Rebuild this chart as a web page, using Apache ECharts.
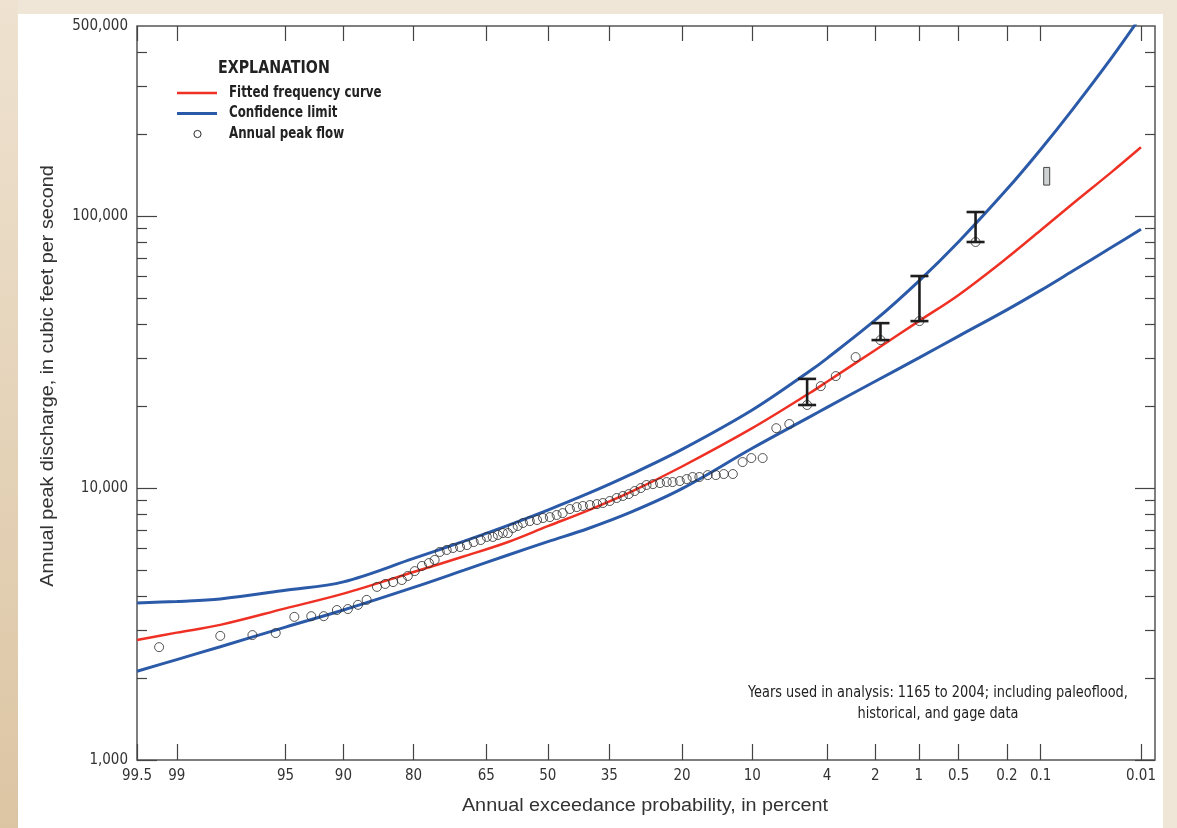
<!DOCTYPE html>
<html><head><meta charset="utf-8">
<script src="https://cdn.jsdelivr.net/npm/echarts@6/dist/echarts.min.js"></script>
<style>
html,body{margin:0;padding:0;width:1177px;height:828px;overflow:hidden;background:#f0e6d8;}
#strip{position:absolute;left:0;top:0;width:18px;height:828px;background:linear-gradient(to bottom,#eee2d0,#dcc5a3);}
#panel{position:absolute;left:18px;top:14px;width:1145px;height:814px;background:#fff;}
#chart{position:absolute;left:0;top:0;width:1177px;height:828px;}
</style></head><body>
<div id="strip"></div><div id="panel"></div><div id="chart"></div>
<script>
// ---- axis ticks ----
const probTicks = [99.5, 99, 95, 90, 80, 65, 50, 35, 20, 10, 4, 2, 1, 0.5, 0.2, 0.1, 0.01];
const probTickLabels = ['99.5','99','95','90','80','65','50','35','20','10','4','2','1','0.5','0.2','0.1','0.01'];
const yLabelValues = [1000, 10000, 100000, 500000];
const yMajorTicks = [1000, 10000, 100000];
const yMinorTicks = [2000,3000,4000,5000,6000,7000,8000,9000,
                     20000,30000,40000,50000,60000,70000,80000,90000,
                     200000,300000,400000];

// ---- curves (annual exceedance probability %, discharge cfs) ----
const curveProbs  = [99.5, 99, 98, 95, 90, 80, 70, 60, 50, 40, 30, 20, 10, 5, 4, 2, 1, 0.5, 0.2, 0.1, 0.05, 0.02, 0.01];
const fittedCurve = [2760, 2940, 3140, 3610, 4090, 4910, 5610, 6320, 7240, 8280, 9700, 12000, 16600, 22400, 24600, 32200, 41100, 51300, 70100, 88700, 111000, 146000, 179000];
const upperLimit  = [3780, 3830, 3910, 4210, 4520, 5510, 6380, 7280, 8300, 9550, 11250, 13870, 19360, 26980, 29990, 41500, 57700, 80500, 125400, 175800, 247000, 386000, 543000];
const lowerLimit  = [2120, 2340, 2610, 3080, 3560, 4310, 4990, 5660, 6350, 7100, 8170, 9950, 14000, 18300, 19800, 24700, 30100, 36200, 45200, 53300, 62800, 77100, 89500];

// ---- annual peak flows ----
const peakProbs = [99.26, 98.0, 96.8, 95.6, 94.4, 93.1, 92.0, 90.7, 89.5, 88.3, 87.2, 85.8, 84.6, 83.4, 82.0, 81.0,
  79.8, 78.5, 77.2, 76.1, 75.1, 73.7, 72.4, 70.9, 69.4, 67.9, 66.3, 64.9, 63.5, 62.3, 61.1, 59.9,
  58.7, 57.5, 56.2, 54.5, 52.7, 51.2, 49.5, 47.8, 46.3, 44.5, 42.8, 41.3, 39.6, 37.9, 36.5, 34.9,
  33.3, 31.9, 30.6, 29.3, 28.0, 26.8, 25.5, 24.1, 22.8, 21.7, 20.4, 19.2, 18.2, 17.1, 15.8, 14.6,
  13.5, 12.3, 11.1, 10.1, 8.9, 7.6, 6.5, 5.2, 4.35, 3.55, 2.68, 1.85, 0.99, 0.366];
const peakFlows = [2600, 2860, 2880, 2930, 3360, 3380, 3380, 3560, 3590, 3720, 3880, 4330, 4440, 4510, 4590, 4750,
  4950, 5170, 5300, 5440, 5820, 5920, 6020, 6070, 6170, 6330, 6440, 6610, 6610, 6720, 6830, 6830,
  7130, 7250, 7440, 7560, 7630, 7760, 7820, 7960, 8090, 8370, 8510, 8590, 8660, 8730, 8810, 8960,
  9190, 9350, 9500, 9750, 10000, 10260, 10340, 10430, 10520, 10520, 10610, 10790, 10980, 10980, 11160, 11160,
  11260, 11260, 12460, 12890, 12890, 16600, 17200, 20200, 23700, 25800, 30300, 35000, 41100, 80300];

// ---- historical / paleoflood ranges ----
const rangeProbs = [5.2, 1.85, 0.99, 0.366];
const rangeLow   = [20200, 35000, 41100, 80300];
const rangeHigh  = [25200, 40400, 60200, 103500];
const paleoProbs = [0.088];
const paleoLow   = [130000];
const paleoHigh  = [151000];

function normInv(p){
  const a=[-3.969683028665376e+01,2.209460984245205e+02,-2.759285104469687e+02,1.383577518672690e+02,-3.066479806614716e+01,2.506628277459239e+00];
  const b=[-5.447609879822406e+01,1.615858368580409e+02,-1.556989798598866e+02,6.680131188771972e+01,-1.328068155288572e+01];
  const c=[-7.784894002430293e-03,-3.223964580411365e-01,-2.400758277161838e+00,-2.549732539343734e+00,4.374664141464968e+00,2.938163982698783e+00];
  const d=[7.784695709041462e-03,3.224671290700398e-01,2.445134137142996e+00,3.754408661907416e+00];
  const pl=0.02425, ph=1-pl; let q,r;
  if(p<pl){q=Math.sqrt(-2*Math.log(p));return (((((c[0]*q+c[1])*q+c[2])*q+c[3])*q+c[4])*q+c[5])/((((d[0]*q+d[1])*q+d[2])*q+d[3])*q+1);}
  if(p<=ph){q=p-0.5;r=q*q;return (((((a[0]*r+a[1])*r+a[2])*r+a[3])*r+a[4])*r+a[5])*q/(((((b[0]*r+b[1])*r+b[2])*r+b[3])*r+b[4])*r+1);}
  q=Math.sqrt(-2*Math.log(1-p));return -(((((c[0]*q+c[1])*q+c[2])*q+c[3])*q+c[4])*q+c[5])/((((d[0]*q+d[1])*q+d[2])*q+d[3])*q+1);
}
const toZ = pct => normInv(1 - pct/100);
const lg = v => Math.log10(v);

const xMin = toZ(99.5);
const xMax = toZ(0.01) + 0.088;
const yMin = lg(1000);
const yMax = lg(500000);
const xTickVals = probTicks.map(toZ);

const NARROW = "'Liberation Sans Narrow','Arial Narrow','DejaVu Sans Condensed',sans-serif";
const RED = '#ee3124', BLUE = '#2b5aa8', INK = '#2a2a2a';

const curve = arr => curveProbs.map((p,i)=>[toZ(p), lg(arr[i])]);

function xAxisCfg(pos, labels, len){
  return {
    type:'value', position:pos, min:xMin, max:xMax, gridIndex:0,
    splitLine:{show:false}, axisLine:{show:false, onZero:false},
    axisTick:{show:true, inside:true, length:len, customValues:xTickVals, lineStyle:{color:'#444', width:1.2}},
    axisLabel:{show:labels, customValues:xTickVals, margin:9, color:'#333', fontFamily:NARROW, fontSize:15,
      formatter:v=>{ for(let i=0;i<xTickVals.length;i++){ if(Math.abs(xTickVals[i]-v)<1e-6) return probTickLabels[i]; } return ''; }}
  };
}
function yAxisCfg(pos, labels, ticks, len){
  return {
    type:'value', position:pos, min:yMin, max:yMax, gridIndex:0,
    splitLine:{show:false}, axisLine:{show:false, onZero:false},
    axisTick:{show:true, inside:true, length:len, customValues:ticks.map(lg), lineStyle:{color:'#444', width:1.2}},
    axisLabel:{show:labels, customValues:yLabelValues.map(lg), margin:9, color:'#333', fontFamily:NARROW, fontSize:15,
      formatter:v=>Math.round(Math.pow(10,v)).toLocaleString('en-US')}
  };
}

const chart = echarts.init(document.getElementById('chart'), null, {renderer:'canvas'});
chart.setOption({
  backgroundColor:'transparent',
  animation:false,
  grid:{left:137, right:22, top:26, bottom:68, show:true, borderColor:'#555', borderWidth:1.5, backgroundColor:'transparent'},
  xAxis:[ xAxisCfg('bottom', true, 16), xAxisCfg('top', false, 15) ],
  yAxis:[ yAxisCfg('left', true, yMajorTicks, 20), yAxisCfg('left', false, yMinorTicks, 10),
          yAxisCfg('right', false, yMajorTicks, 20), yAxisCfg('right', false, yMinorTicks, 10) ],
  series:[
    {name:'Confidence limit', type:'line', data:curve(upperLimit), smooth:0.35, symbol:'none', clip:true,
     lineStyle:{color:BLUE, width:3}, z:2},
    {name:'Confidence limit', type:'line', data:curve(lowerLimit), smooth:0.35, symbol:'none', clip:true,
     lineStyle:{color:BLUE, width:3}, z:2},
    {name:'Fitted frequency curve', type:'line', data:curve(fittedCurve), smooth:0.35, symbol:'none', clip:true,
     lineStyle:{color:RED, width:2.5}, z:3},
    {name:'Annual peak flow', type:'scatter', data:peakProbs.map((p,i)=>[toZ(p), lg(peakFlows[i])]),
     symbol:'circle', symbolSize:9, itemStyle:{color:'rgba(0,0,0,0)', borderColor:INK, borderWidth:1}, z:5},
    {name:'range', type:'custom', z:6,
     data:rangeProbs.map((p,i)=>[toZ(p), lg(rangeLow[i]), lg(rangeHigh[i])]),
     encode:{x:0, y:[1,2]},
     renderItem:(params, api)=>{
       const lo = api.coord([api.value(0), api.value(1)]);
       const hi = api.coord([api.value(0), api.value(2)]);
       const hw = 9;
       const st = {stroke:'#1e1e1e', lineWidth:2.6};
       return {type:'group', children:[
         {type:'line', shape:{x1:lo[0], y1:lo[1], x2:hi[0], y2:hi[1]}, style:st},
         {type:'line', shape:{x1:lo[0]-hw, y1:lo[1], x2:lo[0]+hw, y2:lo[1]}, style:st},
         {type:'line', shape:{x1:hi[0]-hw, y1:hi[1], x2:hi[0]+hw, y2:hi[1]}, style:st}
       ]};
     }},
    {name:'paleo', type:'custom', z:6,
     data:paleoProbs.map((p,i)=>[toZ(p), lg(paleoLow[i]), lg(paleoHigh[i])]),
     encode:{x:0, y:[1,2]},
     renderItem:(params, api)=>{
       const lo = api.coord([api.value(0), api.value(1)]);
       const hi = api.coord([api.value(0), api.value(2)]);
       return {type:'rect', shape:{x:lo[0]-3, y:hi[1], width:6, height:lo[1]-hi[1]},
               style:{fill:'#cfd2d2', stroke:'#444', lineWidth:1}};
     }}
  ],
  graphic:[
    {type:'text', x:48, y:376, rotation:Math.PI/2, scaleX:1.1, z:10,
     style:{text:'Annual peak discharge, in cubic feet per second', align:'center', verticalAlign:'middle',
            font:"18px 'Liberation Sans', Arial, sans-serif", fill:'#333'}},
    {type:'text', x:645, y:806, scaleX:1.1, z:10,
     style:{text:'Annual exceedance probability, in percent', align:'center', verticalAlign:'middle',
            font:"18px 'Liberation Sans', Arial, sans-serif", fill:'#333'}},
    {type:'text', x:938, y:704, scaleX:0.957, z:10,
     style:{text:'Years used in analysis: 1165 to 2004; including paleoflood,\nhistorical, and gage data', align:'center', verticalAlign:'middle',
            font:"15px "+NARROW, lineHeight:21, fill:'#222'}},
    {type:'text', x:218, y:69, scaleX:0.93, z:10,
     style:{text:'EXPLANATION', align:'left', verticalAlign:'middle', font:"bold 17px "+NARROW, fill:'#222'}},
    {type:'line', z:10, shape:{x1:177, y1:93, x2:217, y2:93}, style:{stroke:RED, lineWidth:2.5}},
    {type:'line', z:10, shape:{x1:177, y1:113.5, x2:217, y2:113.5}, style:{stroke:BLUE, lineWidth:3}},
    {type:'circle', z:10, shape:{cx:197.5, cy:134, r:3.6}, style:{fill:'rgba(0,0,0,0)', stroke:INK, lineWidth:1}},
    {type:'text', x:229, y:93, scaleX:0.85, z:10, style:{text:'Fitted frequency curve', verticalAlign:'middle', font:"bold 15.5px "+NARROW, fill:'#222'}},
    {type:'text', x:229, y:113, scaleX:0.85, z:10, style:{text:'Confidence limit', verticalAlign:'middle', font:"bold 15.5px "+NARROW, fill:'#222'}},
    {type:'text', x:229, y:134, scaleX:0.85, z:10, style:{text:'Annual peak flow', verticalAlign:'middle', font:"bold 15.5px "+NARROW, fill:'#222'}}
  ]
});
</script></body></html>
